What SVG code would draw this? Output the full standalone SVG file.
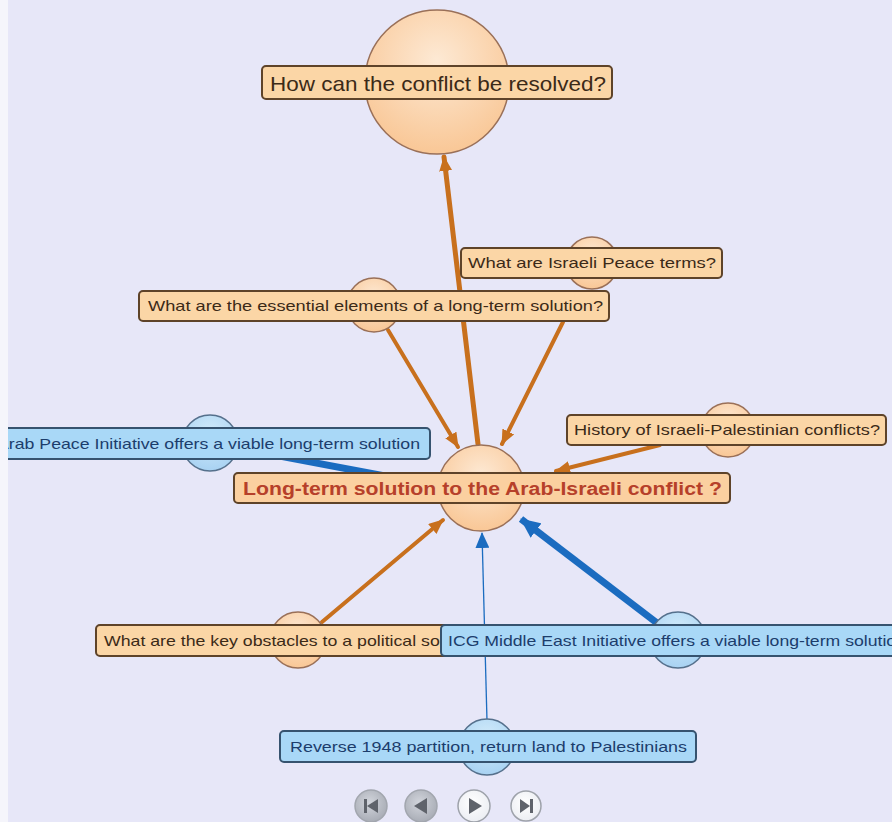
<svg xmlns="http://www.w3.org/2000/svg" width="892" height="822" viewBox="0 0 892 822">
  <defs>
    <radialGradient id="gPeach" cx="50%" cy="35%" r="65%">
      <stop offset="0" stop-color="#fde9d4"/>
      <stop offset="1" stop-color="#f9c796"/>
    </radialGradient>
    <radialGradient id="gBlue" cx="50%" cy="35%" r="65%">
      <stop offset="0" stop-color="#d4ecfb"/>
      <stop offset="1" stop-color="#a8d2f2"/>
    </radialGradient>
    <radialGradient id="gBtnGrey" cx="45%" cy="40%" r="60%">
      <stop offset="0" stop-color="#d2d5dc"/>
      <stop offset="1" stop-color="#a9adb6"/>
    </radialGradient>
    <radialGradient id="gBtnWhite" cx="45%" cy="40%" r="60%">
      <stop offset="0" stop-color="#ffffff"/>
      <stop offset="1" stop-color="#eceef3"/>
    </radialGradient>
    <marker id="arrOrange" markerUnits="userSpaceOnUse" markerWidth="15" markerHeight="13" refX="14" refY="6.5" orient="auto">
      <path d="M0,0 L15,6.5 L0,13 z" fill="#c8701d"/>
    </marker>
    <marker id="arrBlue" markerUnits="userSpaceOnUse" markerWidth="20" markerHeight="18" refX="19" refY="9" orient="auto">
      <path d="M0,0 L20,9 L0,18 z" fill="#1b6cc0"/>
    </marker>
    <marker id="arrBlueThin" markerUnits="userSpaceOnUse" markerWidth="16" markerHeight="14" refX="15" refY="7" orient="auto">
      <path d="M0,0 L16,7 L0,14 z" fill="#1b6cc0"/>
    </marker>
    <clipPath id="view">
      <rect x="8" y="0" width="884" height="822"/>
    </clipPath>
    <style>
      .lbl { font-family: "Liberation Sans", Arial, sans-serif; font-size: 15px; }
      .boxO { fill: #fbd6a6; stroke: #5e4329; stroke-width: 2; }
      .boxB { fill: #a9d8f7; stroke: #36536f; stroke-width: 2; }
      .txtO { fill: #3b2a18; }
      .txtB { fill: #1c3d6c; }
      .circO { fill: url(#gPeach); stroke: #9a7058; stroke-width: 1.5; }
      .circB { fill: url(#gBlue); stroke: #55708c; stroke-width: 1.5; }
      .edgeO { stroke: #c8701d; stroke-width: 4; fill: none; stroke-linecap: round; marker-end: url(#arrOrange); }
      .edgeB { stroke: #1b6cc0; stroke-width: 7; fill: none; marker-end: url(#arrBlue); }
      .edgeBt { stroke: #1b6cc0; stroke-width: 1.3; fill: none; marker-end: url(#arrBlueThin); }
      .btnG { fill: url(#gBtnGrey); stroke: #a2a6ae; stroke-width: 1.5; }
      .btnW { fill: url(#gBtnWhite); stroke: #9ea2aa; stroke-width: 1.5; }
      .icon { fill: #5f636b; }
    </style>
  </defs>

  <!-- canvas -->
  <rect x="0" y="0" width="892" height="822" fill="#e7e7f8"/>
  <rect x="0" y="0" width="8" height="822" fill="#f5f5fb"/>

  <g clip-path="url(#view)">
    <!-- links between questions and positions -->
    <g id="connectors">
      <line class="edgeO" x1="478" y1="444" x2="444" y2="157" style="stroke-width:5"/>
      <line class="edgeO" x1="388" y1="330" x2="458" y2="447"/>
      <line class="edgeO" x1="563" y1="322" x2="502" y2="444"/>
      <line class="edgeO" x1="660" y1="445" x2="556" y2="471"/>
      <line class="edgeO" x1="322" y1="622" x2="443" y2="520"/>
      <line class="edgeB" x1="657" y1="623" x2="521" y2="519"/>
      <line class="edgeBt" x1="487" y1="721" x2="482" y2="533"/>
      <line class="edgeB" x1="210" y1="443" x2="438" y2="486"/>
    </g>

    <g id="node-resolve">
      <circle class="circO" cx="437" cy="82" r="72"/>
      <rect class="boxO" x="262" y="66" width="350" height="33" rx="4"/>
      <text class="lbl txtO" x="270" y="91" style="font-size:21px" textLength="336" lengthAdjust="spacingAndGlyphs">How can the conflict be resolved?</text>
    </g>

    <g id="node-peace-terms">
      <circle class="circO" cx="592" cy="263" r="26"/>
      <rect class="boxO" x="461" y="248" width="261" height="30" rx="4"/>
      <text class="lbl txtO" x="468" y="268" textLength="248" lengthAdjust="spacingAndGlyphs">What are Israeli Peace terms?</text>
    </g>

    <g id="node-essential">
      <circle class="circO" cx="374" cy="305" r="27"/>
      <rect class="boxO" x="139" y="291" width="470" height="30" rx="4"/>
      <text class="lbl txtO" x="148" y="311" textLength="455" lengthAdjust="spacingAndGlyphs">What are the essential elements of a long-term solution?</text>
    </g>

    <g id="node-history">
      <circle class="circO" cx="728" cy="430" r="27"/>
      <rect class="boxO" x="567" y="415" width="319" height="30" rx="4"/>
      <text class="lbl txtO" x="574" y="435" textLength="306" lengthAdjust="spacingAndGlyphs">History of Israeli-Palestinian conflicts?</text>
    </g>

    <g id="node-arab-initiative">
      <circle class="circB" cx="210" cy="443" r="28"/>
      <rect class="boxB" x="-12" y="428" width="442" height="31" rx="4"/>
      <text class="lbl txtB" x="-3" y="449" textLength="423" lengthAdjust="spacingAndGlyphs">Arab Peace Initiative offers a viable long-term solution</text>
    </g>

    <g id="node-central">
      <circle class="circO" cx="481" cy="488" r="43"/>
      <rect class="boxO" x="234" y="473" width="496" height="30" rx="4" style="fill:#fbd0a0"/>
      <text class="lbl" x="243" y="495" style="font-size:18px;font-weight:bold;fill:#b6402a" textLength="479" lengthAdjust="spacingAndGlyphs">Long-term solution to the Arab-Israeli conflict ?</text>
    </g>

    <g id="node-obstacles">
      <circle class="circO" cx="298" cy="640" r="28"/>
      <rect class="boxO" x="96" y="625" width="404" height="31" rx="4"/>
      <text class="lbl txtO" x="104" y="646" textLength="388" lengthAdjust="spacingAndGlyphs">What are the key obstacles to a political solution?</text>
    </g>

    <g id="node-icg">
      <circle class="circB" cx="678" cy="640" r="28"/>
      <rect class="boxB" x="441" y="625" width="474" height="31" rx="4"/>
      <text class="lbl txtB" x="448" y="646" textLength="458" lengthAdjust="spacingAndGlyphs">ICG Middle East Initiative offers a viable long-term solution</text>
    </g>

    <g id="node-reverse">
      <circle class="circB" cx="487" cy="747" r="28"/>
      <rect class="boxB" x="280" y="731" width="416" height="31" rx="4"/>
      <text class="lbl txtB" x="290" y="752" textLength="397" lengthAdjust="spacingAndGlyphs">Reverse 1948 partition, return land to Palestinians</text>
    </g>
  </g>

  <!-- playback controls -->
  <g id="controls">
    <circle class="btnG" cx="371" cy="806" r="16"/>
    <rect class="icon" x="364" y="799" width="3" height="14"/>
    <path class="icon" d="M378,799 L367,806 L378,813 z"/>

    <circle class="btnG" cx="421" cy="806" r="16"/>
    <path class="icon" d="M427,798 L414,806 L427,814 z"/>

    <circle class="btnW" cx="474" cy="806" r="16"/>
    <path class="icon" d="M469,798 L482,806 L469,814 z"/>

    <circle class="btnW" cx="526" cy="806" r="15"/>
    <path class="icon" d="M520,799 L530,806 L520,813 z"/>
    <rect class="icon" x="530" y="799" width="3" height="14"/>
  </g>
</svg>
